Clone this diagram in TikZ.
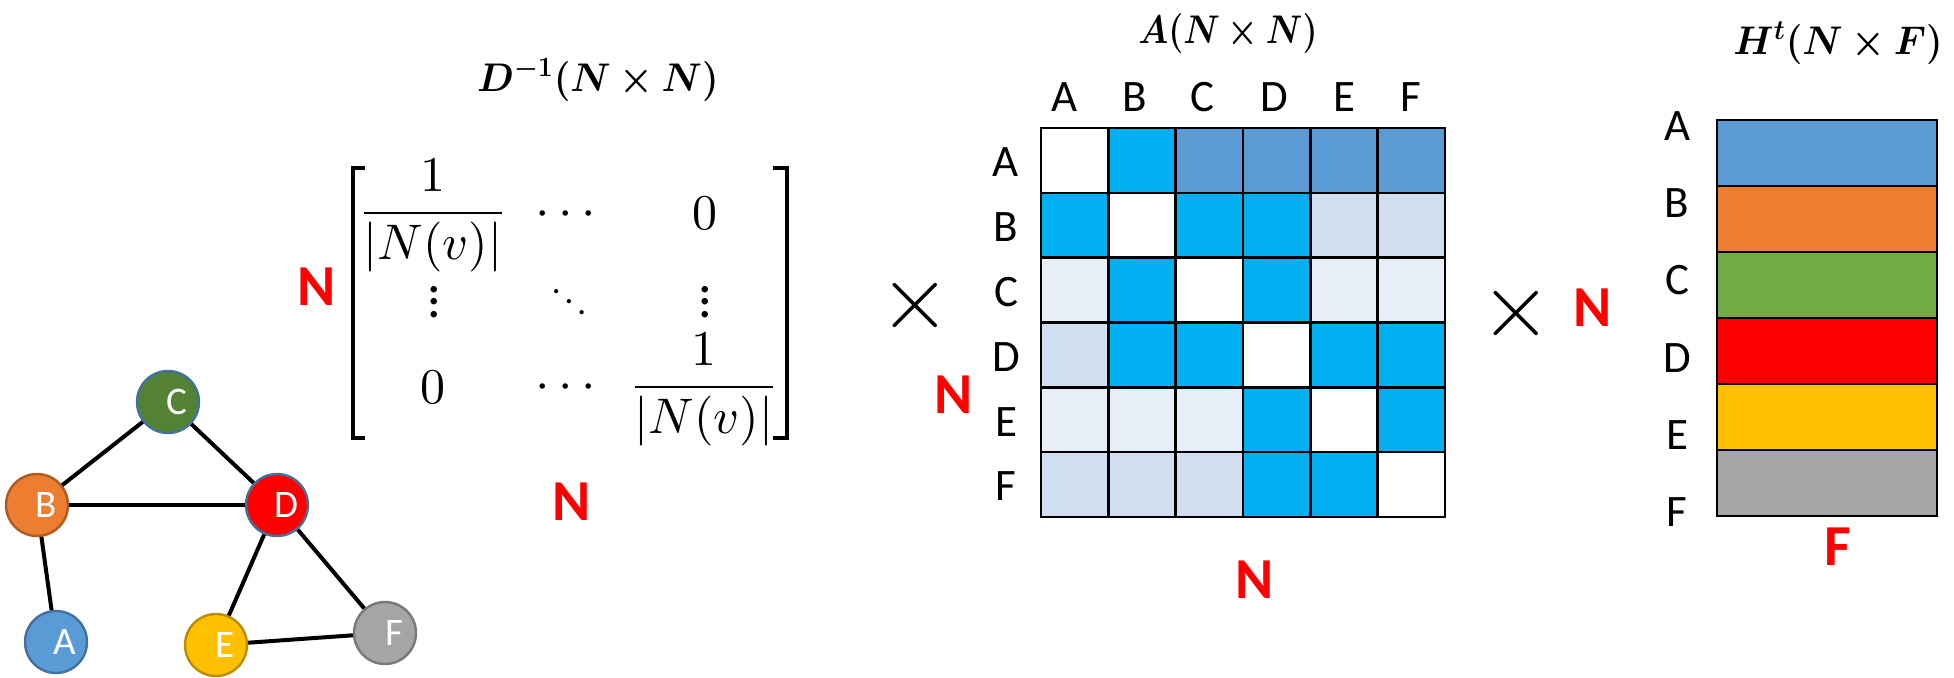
\RequirePackage{fix-cm}
\documentclass[tikz,border=0pt]{standalone}
\usepackage{amsmath}
\usepackage{bm}
\usepackage{graphicx}
\usepackage[no-math]{fontspec}
\setmainfont{Carlito}
\usepackage{xcolor}
\definecolor{featA}{HTML}{5B9BD5}
\definecolor{featB}{HTML}{ED7D31}
\definecolor{featC}{HTML}{70AD47}
\definecolor{featCdark}{HTML}{548235}
\definecolor{featD}{HTML}{FF0000}
\definecolor{featE}{HTML}{FFC000}
\definecolor{featF}{HTML}{A5A5A5}
\definecolor{ringblue}{HTML}{41719C}
\definecolor{ringorange}{HTML}{AE5A21}
\definecolor{ringgold}{HTML}{BC8C00}
\definecolor{ringgrey}{HTML}{787878}
\definecolor{adjW}{HTML}{FFFFFF}
\definecolor{adjC}{HTML}{00B0F0}
\definecolor{adjM}{HTML}{5B9BD5}
\definecolor{adjL}{HTML}{D0DEEF}
\definecolor{adjX}{HTML}{E8EEF7}
\definecolor{dimred}{HTML}{FF0000}
\tikzset{
  gnode/.style 2 args={
    circle,
    fill=#1,
    draw=#2,
    line width=1.2pt,
    minimum size=31pt,
    inner sep=0pt,
    text=white,
    font=\fontsize{19.5}{20}\selectfont,
    execute at begin node=\hspace*{9pt}
  },
  edge/.style={
    line width=2pt,
    draw=black
  },
  cellbox/.style={
    draw=black,
    line width=1.3pt
  },
  bracket/.style={
    line width=2pt
  },
  axislbl/.style={
    inner sep=0pt,
    font=\fontsize{22.5}{24}\selectfont
  },
  dimlbl/.style={
    inner sep=0pt,
    text=dimred,
    font=\fontsize{29}{30}\selectfont\bfseries
  },
  titlelbl/.style={
    inner sep=0pt,
    font=\fontsize{20}{24}\selectfont
  },
  entry/.style={
    inner sep=0pt
  },
  timeslbl/.style={
    inner sep=0pt,
    font=\fontsize{46}{50}\selectfont
  }
}

\begin{document}
\begin{tikzpicture}[x=0.5pt, y=-0.5pt]
\useasboundingbox (0,0) rectangle (1954,677);

% graph
\node[gnode={featA}{ringblue}] (a) at (56,642) {A};
\node[gnode={featB}{ringorange}] (b) at (37,505) {B};
\node[gnode={featCdark}{ringblue}] (c) at (168,402) {C};
\node[gnode={featD}{ringblue}] (d) at (277,505) {D};
\node[gnode={featE}{ringgold}] (e) at (216,645) {E};
\node[gnode={featF}{ringgrey}] (f) at (385,633) {F};
\foreach \u/\v in {a/b,b/c,b/d,c/d,d/e,d/f,e/f}
  \draw[edge] (\u) -- (\v);

% inverse degree matrix
\node[titlelbl] (dtitle) at (598,80) {\scalebox{0.95}[1]{$\bm{D^{-1}(N\times N)}$}};
\draw[bracket] (365,168) -| (353,438) -- (365,438);
\draw[bracket] (773,168) -| (787,438) -- (773,438);
\node[entry] (d11) at (433,216) {\scalebox{2.5}{$\dfrac{1}{|N(v)|}$}};
\node[entry] (d12) at (570,215) {\scalebox{2.6}{$\cdots$}};
\node[entry] (d13) at (705,213) {\scalebox{2.5}{$0$}};
\node[entry] (d21) at (434,292.5) {\fontsize{17}{20}\selectfont\scalebox{1.575}{$\vdots$}};
\node[entry] (d22) at (569,291.5) {\scalebox{1.75}{$\ddots$}};
\node[entry] (d23) at (705,292.5) {\fontsize{17}{20}\selectfont\scalebox{1.575}{$\vdots$}};
\node[entry] (d31) at (433,387) {\scalebox{2.5}{$0$}};
\node[entry] (d32) at (570,388) {\scalebox{2.6}{$\cdots$}};
\node[entry] (d33) at (704,390) {\scalebox{2.5}{$\dfrac{1}{|N(v)|}$}};
\node[dimlbl] (dN1) at (317,287) {N};
\node[dimlbl] (dN2) at (572,502) {N};

\node[timeslbl] (times1) at (915,305) {$\times$};

% adjacency matrix
\node[titlelbl] (atitle) at (1228,33) {\scalebox{0.86}[1]{$\bm{A(N\times N)}$}};
\foreach \r/\cols in {0/{adjW,adjC,adjM,adjM,adjM,adjM},
                      1/{adjC,adjW,adjC,adjC,adjL,adjL},
                      2/{adjX,adjC,adjW,adjC,adjX,adjX},
                      3/{adjL,adjC,adjC,adjW,adjC,adjC},
                      4/{adjX,adjX,adjX,adjC,adjW,adjC},
                      5/{adjL,adjL,adjL,adjC,adjC,adjW}}
  \foreach \c [count=\j from 0] in \cols
    \draw[cellbox, fill=\c] ({1041+67.33*\j},{128+64.8*\r}) rectangle +(67.33,64.8);
\node[dimlbl] (aN1) at (954,395) {N};
\node[dimlbl] (aN2) at (1255,580) {N};

\node[timeslbl] (times2) at (1516,313) {$\times$};
\node[dimlbl] (hN) at (1593,308) {N};

% feature matrix
\node[titlelbl] (htitle) at (1838,43) {\scalebox{0.95}[1]{$\bm{H^{t}(N\times F)}$}};
\foreach \c [count=\i from 0] in {featA,featB,featC,featD,featE,featF}
  \draw[cellbox, fill=\c] (1717,{120+66*\i}) rectangle +(220,66);
\node[dimlbl] (hF) at (1838,547) {F};

% row / column letters
\foreach \l/\dx [count=\i from 0] in {A/-10,B/-7,C/-7,D/-2,E/0,F/0} {
  \node[axislbl] (col\l) at ({1041+67.33*(\i+0.5)+\dx},97) {\l};
  \node[axislbl] (row\l) at (1006,{130+64.8*(\i+0.5)}) {\l};
  \node[axislbl] (feat\l) at (1677,{126+77.2*\i}) {\l};
}
\end{tikzpicture}
\end{document}
